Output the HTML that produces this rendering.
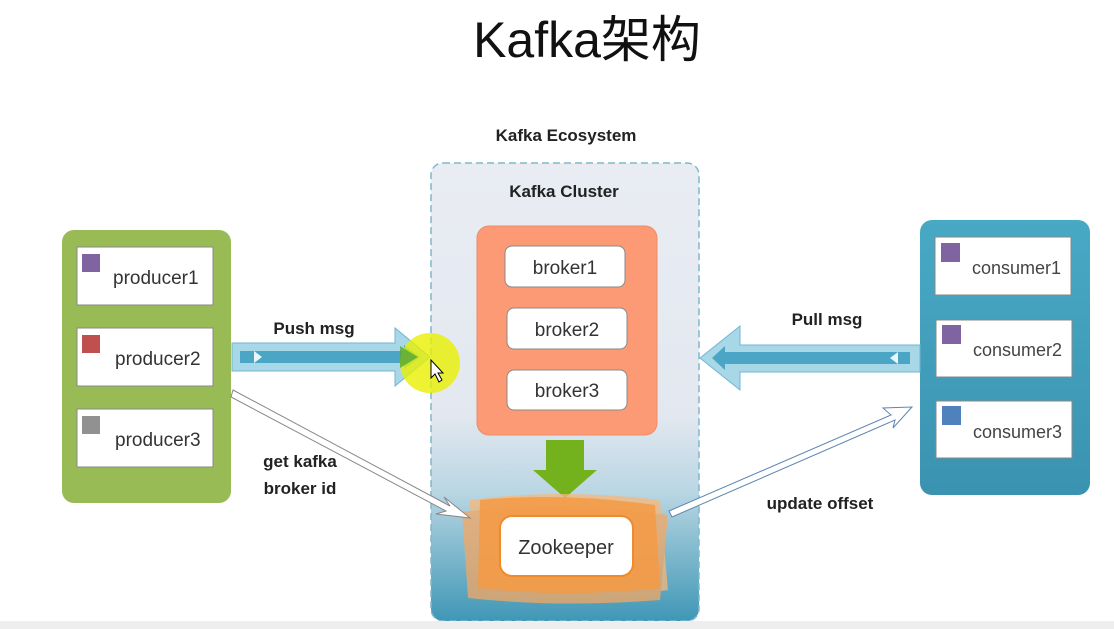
<!DOCTYPE html>
<html><head><meta charset="utf-8"><style>
html,body{margin:0;padding:0;background:#fff;width:1114px;height:629px;overflow:hidden}
svg{display:block}
text{font-family:"Liberation Sans","Noto Sans CJK SC",sans-serif}
</style></head><body>
<svg width="1114" height="629" viewBox="0 0 1114 629" xmlns="http://www.w3.org/2000/svg">
<defs>
<linearGradient id="cl" x1="0" y1="0" x2="0" y2="1">
<stop offset="0" stop-color="#e9ecf3"/><stop offset="0.55" stop-color="#e3e8f0"/>
<stop offset="0.72" stop-color="#b9d6e3"/><stop offset="1" stop-color="#3f97b6"/></linearGradient>
<linearGradient id="cg" x1="0" y1="0" x2="0" y2="1">
<stop offset="0" stop-color="#48a9c5"/><stop offset="1" stop-color="#3a93b0"/></linearGradient>
</defs>
<text x="587" y="57" font-size="50" text-anchor="middle" fill="#111">Kafka架构</text>
<text x="566" y="141" font-size="17" font-weight="bold" text-anchor="middle" fill="#222">Kafka Ecosystem</text>

<rect x="431" y="163" width="268" height="458" rx="12" fill="url(#cl)" stroke="#7fb8cc" stroke-width="1.5" stroke-dasharray="7,4"/>
<text x="564" y="197" font-size="17" font-weight="bold" text-anchor="middle" fill="#222">Kafka Cluster</text>

<rect x="477" y="226" width="180" height="209" rx="12" fill="#fb9a74" stroke="#ee8c66"/>
<g font-size="19" fill="#333" text-anchor="middle">
<rect x="505" y="246" width="120" height="41" rx="7" fill="#fff" stroke="#8a8a8a"/><text x="565" y="274">broker1</text>
<rect x="507" y="308" width="120" height="41" rx="7" fill="#fff" stroke="#8a8a8a"/><text x="567" y="336">broker2</text>
<rect x="507" y="370" width="120" height="40" rx="7" fill="#fff" stroke="#8a8a8a"/><text x="567" y="397">broker3</text>
</g>
<polygon points="546,440 584,440 584,470 597,470 565,498 533,470 546,470" fill="#73b21c"/>

<g opacity="0.75">
<path d="M470,500 Q560,488 660,500 L668,590 Q570,604 472,594 Z" fill="#f7b87a"/>
<path d="M462,512 Q560,500 668,515 L660,600 Q560,608 468,598 Z" fill="#f5a763"/>
</g>
<path d="M480,500 Q565,492 655,505 L660,588 Q565,598 478,588 Z" fill="#f59a44" opacity="0.85"/>
<rect x="500" y="516" width="133" height="60" rx="12" fill="#fff" stroke="#f08a2c" stroke-width="2"/>
<text x="566" y="554" font-size="20" text-anchor="middle" fill="#333">Zookeeper</text>

<rect x="62" y="230" width="169" height="273" rx="12" fill="#98bb55"/>
<g font-size="19" fill="#333">
<rect x="77" y="247" width="136" height="58" fill="#fff" stroke="#888"/><rect x="82" y="254" width="18" height="18" fill="#8064a2"/><text x="113" y="284">producer1</text>
<rect x="77" y="328" width="136" height="58" fill="#fff" stroke="#888"/><rect x="82" y="335" width="18" height="18" fill="#c0504d"/><text x="115" y="365">producer2</text>
<rect x="77" y="409" width="136" height="58" fill="#fff" stroke="#888"/><rect x="82" y="416" width="18" height="18" fill="#919191"/><text x="115" y="446">producer3</text>
</g>

<rect x="920" y="220" width="170" height="275" rx="12" fill="url(#cg)"/>
<g font-size="18" fill="#444">
<rect x="935" y="237" width="136" height="58" fill="#fff" stroke="#888"/><rect x="941" y="243" width="19" height="19" fill="#8064a2"/><text x="972" y="274">consumer1</text>
<rect x="936" y="320" width="136" height="57" fill="#fff" stroke="#888"/><rect x="942" y="325" width="19" height="19" fill="#8064a2"/><text x="973" y="356">consumer2</text>
<rect x="936" y="401" width="136" height="57" fill="#fff" stroke="#888"/><rect x="942" y="406" width="19" height="19" fill="#4f81bd"/><text x="973" y="438">consumer3</text>
</g>

<polygon points="232,343 395,343 395,328 430,357 395,386 395,371 232,371" fill="#a8d8e8" stroke="#6fb7d0"/>
<polygon points="240,351 404,351 404,345 420,357 404,369 404,363 240,363" fill="#4aa6c4"/>
<polygon points="254,351 262,357 254,363" fill="#e8f6fb"/>
<circle cx="430" cy="363" r="30" fill="#e8f000" opacity="0.8"/>
<polygon points="400,346 418,357 400,368" fill="#55a83a" opacity="0.8"/>
<path d="M431,360 L431,378 L435,374 L439,382 L442,380 L438,373 L443,373 Z" fill="#fff" stroke="#000" stroke-width="1"/>
<text x="314" y="334" font-size="17" font-weight="bold" text-anchor="middle" fill="#222">Push msg</text>

<polygon points="920,345 740,345 740,326 700,358 740,390 740,372 920,372" fill="#a8d8e8" stroke="#6fb7d0"/>
<polygon points="910,352 725,352 725,346 712,358 725,370 725,364 910,364" fill="#4aa6c4"/>
<polygon points="898,352 890,358 898,364" fill="#e8f6fb"/>
<text x="827" y="325" font-size="17" font-weight="bold" text-anchor="middle" fill="#222">Pull msg</text>

<polygon points="233,390 450,506 444,497 470,518 436,514 446,511 231,397" fill="#fff" stroke="#888" stroke-width="1"/>
<text x="300" y="467" font-size="17" font-weight="bold" text-anchor="middle" fill="#222">get kafka</text>
<text x="300" y="494" font-size="17" font-weight="bold" text-anchor="middle" fill="#222">broker id</text>

<polygon points="669,511 891,415 883,408 912,407 893,428 895,420 672,517" fill="#fff" stroke="#5e86b0" stroke-width="1"/>
<text x="820" y="509" font-size="17" font-weight="bold" text-anchor="middle" fill="#222">update offset</text>

<rect x="0" y="621" width="1114" height="8" fill="#eeeeee"/>
</svg>
</body></html>
